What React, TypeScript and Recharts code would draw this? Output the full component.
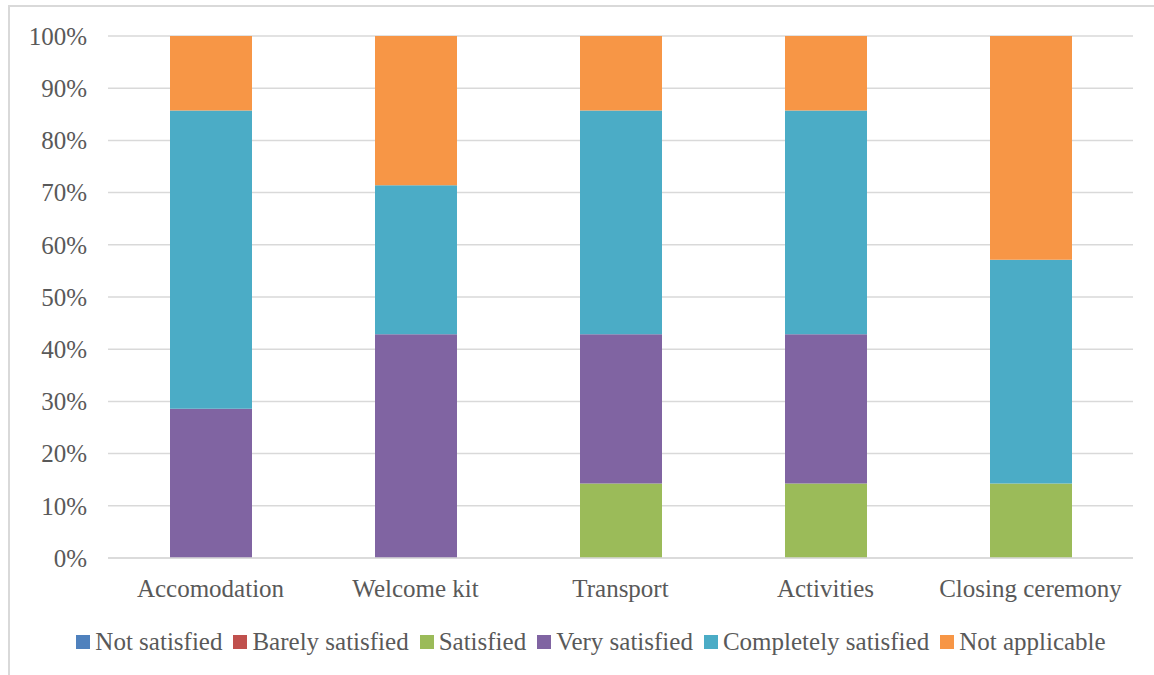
import { BarChart, Bar, XAxis, YAxis, CartesianGrid, Legend } from 'recharts';

// counts out of 7 respondents per activity
const activities = ['Accomodation', 'Welcome kit', 'Transport', 'Activities', 'Closing ceremony'];
const notSatisfied = [0, 0, 0, 0, 0];
const barelySatisfied = [0, 0, 0, 0, 0];
const satisfied = [0, 0, 1, 1, 1];
const verySatisfied = [2, 3, 2, 2, 0];
const completelySatisfied = [4, 2, 3, 3, 3];
const notApplicable = [1, 2, 1, 1, 3];
const yTicks = [0, 0.1, 0.2, 0.3, 0.4, 0.5, 0.6, 0.7, 0.8, 0.9, 1];

const series = [
    { key: 'Not satisfied', values: notSatisfied, color: '#4f81bd' },
    { key: 'Barely satisfied', values: barelySatisfied, color: '#c0504d' },
    { key: 'Satisfied', values: satisfied, color: '#9bbb59' },
    { key: 'Very satisfied', values: verySatisfied, color: '#8064a2' },
    { key: 'Completely satisfied', values: completelySatisfied, color: '#4bacc6' },
    { key: 'Not applicable', values: notApplicable, color: '#f79646' },
];

const data = activities.map((name, i) => {
    const row: Record<string, string | number> = { name };
    series.forEach((s) => (row[s.key] = s.values[i]));
    return row;
});

const font = "'Liberation Serif', serif";
const textColor = '#595959';

// legend in series order (recharts would sort it otherwise)
const renderLegend = () => (
    <div style={{ display: 'flex', justifyContent: 'center', alignItems: 'center', fontFamily: font, fontSize: 25, color: textColor }}>
        {series.map((s, i) => (
            <div key={s.key} style={{ display: 'flex', alignItems: 'center', marginLeft: i === 0 ? 0 : 11 }}>
                <span style={{ display: 'inline-block', width: 14, height: 14, background: s.color, marginRight: 5 }} />
                <span>{s.key}</span>
            </div>
        ))}
    </div>
);

export default function App() {
    return (
        <div style={{ position: 'fixed', inset: 0, overflow: 'hidden', background: '#fff' }}>
            <div
                style={{
                    position: 'absolute',
                    left: 8,
                    top: 5,
                    width: 1200,
                    height: 700,
                    border: '2px solid #d9d9d9',
                }}
            />
            <div style={{ position: 'absolute', left: 0, top: 0 }}>
                <BarChart
                    width={1154}
                    height={675}
                    data={data}
                    stackOffset="expand"
                    barSize={82}
                    margin={{ top: 36, right: 21, bottom: 67, left: 8 }}
                    style={{ fontFamily: font }}
                >
                    <CartesianGrid vertical={false} stroke="#d9d9d9" strokeWidth={1.5} />
                    <XAxis
                        dataKey="name"
                        height={50}
                        tickLine={false}
                        tickSize={0}
                        tickMargin={21}
                        axisLine={{ stroke: '#d9d9d9', strokeWidth: 1.5 }}
                        tick={{ fill: textColor, fontSize: 25, fontFamily: font }}
                    />
                    <YAxis
                        width={100}
                        domain={[0, 1]}
                        ticks={yTicks}
                        tickFormatter={(v: number) => `${Math.round(v * 100)}%`}
                        axisLine={false}
                        tickLine={false}
                        tickSize={0}
                        tickMargin={21}
                        tick={{ fill: textColor, fontSize: 25, fontFamily: font }}
                    />
                    <Legend
                        layout="horizontal"
                        verticalAlign="middle"
                        align="center"
                        content={renderLegend}
                        wrapperStyle={{ top: 628, left: 14, width: 1154 }}
                    />
                    {series.map((s) => (
                        <Bar key={s.key} dataKey={s.key} stackId="a" fill={s.color} isAnimationActive={false} />
                    ))}
                </BarChart>
            </div>
        </div>
    );
}
